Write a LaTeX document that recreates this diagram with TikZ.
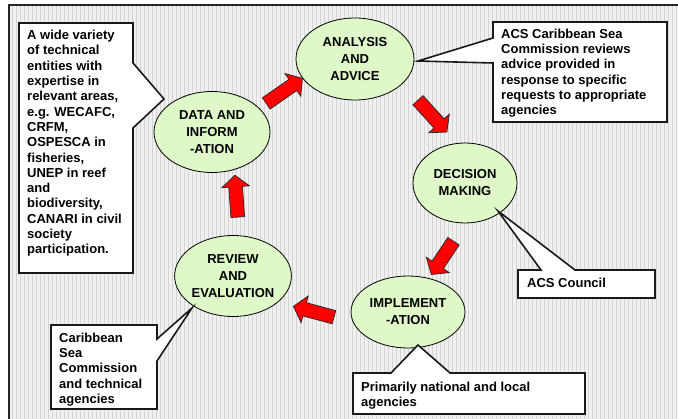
\documentclass[tikz,border=0pt]{standalone}
\usepackage{fontspec}
\setmainfont{Liberation Sans}
\usetikzlibrary{shapes.geometric,shapes.arrows}
\definecolor{ellfill}{RGB}{222,248,200}
\definecolor{bgfill}{RGB}{240,240,240}
\definecolor{bggrid}{RGB}{212,212,212}
\definecolor{arrred}{RGB}{255,0,0}
\tikzset{
  stage/.style={ellipse, draw=black, line width=0.8pt, fill=ellfill, inner sep=0pt,
    align=center, font=\fontsize{13}{17}\selectfont\bfseries, text=black},
  blockarrow/.style={single arrow, draw=black!85, fill=arrred, line width=0.7pt,
    single arrow head extend=7pt, single arrow tip angle=100,
    inner xsep=0pt, inner ysep=6.5pt, anchor=center},
  callout/.style={draw=black!90, fill=white, line width=1.6pt, line join=miter},
  calltext/.style={anchor=north west, inner sep=0pt, align=left,
    font=\fontsize{13}{15.3}\selectfont\bfseries, text=black}
}
\begin{document}
\begin{tikzpicture}[x=1pt,y=-1pt]
\useasboundingbox (0,0) rectangle (678,419);
\fill[white] (0,0) rectangle (678,419);
\fill[bgfill] (9,5) rectangle (678,419);
\begin{scope}
\clip (9,5) rectangle (678,419);
\draw[bggrid, line width=0.5pt] (9.5,5.5) grid[step=4] (680,421);
\end{scope}
\draw[line width=2pt, black!85] (9,425) -- (9,5) -- (685,5);

% stages
\node[stage, minimum width=116pt, minimum height=81pt] (data) at (212,132) {DATA AND\\INFORM\\-ATION};
\node[stage, minimum width=118pt, minimum height=82pt] (analysis) at (355,59) {ANALYSIS\\AND\\ADVICE};
\node[stage, minimum width=104pt, minimum height=80pt] (decision) at (465,183) {DECISION\\MAKING};
\node[stage, minimum width=114pt, minimum height=72pt] (implement) at (408,312) {IMPLEMENT\\-ATION};
\node[stage, minimum width=116pt, minimum height=81pt] (review) at (233,276) {REVIEW\\AND\\EVALUATION};

% block arrows
\node[blockarrow, minimum height=44pt, rotate=34.8] (a1) at (282,92.5) {};
\node[blockarrow, minimum height=43pt, rotate=-47.8] (a2) at (430.5,114) {};
\node[blockarrow, minimum height=40pt, rotate=-123.7] (a3) at (444,255.5) {};
\node[blockarrow, minimum height=42pt, rotate=165] (a4) at (316.5,312.5) {};
\node[blockarrow, minimum height=42pt, rotate=94] (a5) at (236.5,199) {};

% callouts
\draw[callout] (19,23) -- (133,23) -- (133,63) -- (164,99) -- (133,128) -- (133,273) -- (19,273) -- cycle;
\node[calltext] (t1) at (27,30) {A wide variety\\of technical\\entities with\\expertise in\\relevant areas,\\e.g. WECAFC,\\CRFM,\\OSPESCA in\\fisheries,\\UNEP in reef\\and\\biodiversity,\\CANARI in civil\\society\\participation.};

\draw[callout] (493,22) -- (667,22) -- (667,122) -- (493,122) -- (493,63) -- (418,61) -- (493,38) -- cycle;
\node[calltext] (t2) at (501,28.5) {ACS Caribbean Sea\\Commission reviews\\advice provided in\\response to specific\\requests to appropriate\\agencies};

\draw[callout] (518,270) -- (541,270) -- (498,211) -- (575,270) -- (655,270) -- (655,298) -- (518,298) -- cycle;
\node[calltext] (t3) at (527,277.5) {ACS Council};

\draw[callout] (353,373) -- (391,373) -- (418,345) -- (450,373) -- (585,373) -- (585,414) -- (353,414) -- cycle;
\node[calltext, font=\fontsize{13}{15.7}\selectfont\bfseries] (t4) at (361,381.5) {Primarily national and local\\agencies};

\draw[callout] (51,325) -- (157,325) -- (157,339) -- (192,308) -- (157,361) -- (157,409) -- (51,409) -- cycle;
\node[calltext] (t5) at (59,332.5) {Caribbean\\Sea\\Commission\\and technical\\agencies};
\end{tikzpicture}
\end{document}
